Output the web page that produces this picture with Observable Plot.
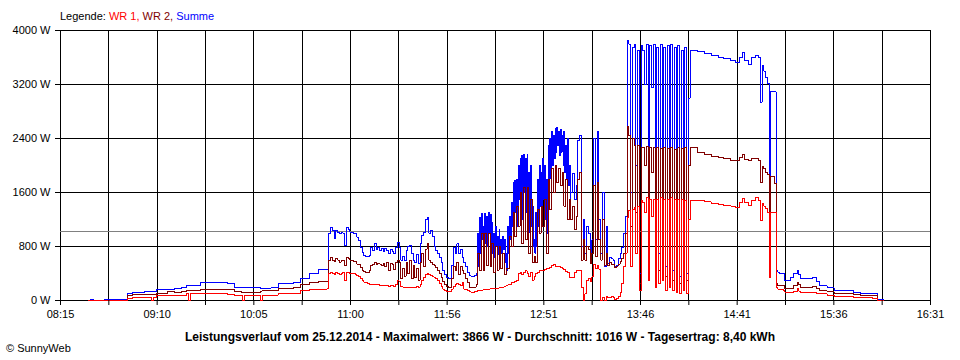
<!DOCTYPE html>
<html><head><meta charset="utf-8">
<script src="https://cdn.jsdelivr.net/npm/d3@7"></script>
<script src="https://cdn.jsdelivr.net/npm/@observablehq/plot@0.6"></script>
<style>
body{margin:0;background:#fff;}
#wrap{position:relative;width:960px;height:360px;font-family:"Liberation Sans",Arial,sans-serif;font-size:11px;color:#000;}
#chart{position:absolute;left:0;top:0;}
#legend{position:absolute;left:60px;top:10px;white-space:nowrap;}
#title{position:absolute;left:0;width:960px;top:330px;text-align:center;font-weight:bold;font-size:12px;white-space:nowrap;}
#copy{position:absolute;left:6px;top:342px;white-space:nowrap;}
</style></head>
<body>
<div id="wrap">
<div id="chart"></div>
<div id="legend"></div>
<div id="title"></div>
<div id="copy"></div>
</div>
<script>
const seriesNames = ["WR 1", "WR 2", "Summe"];
const seriesColors = ["#ff0000", "#800000", "#0000ff"];
const tickLabels = ["08:15","09:10","10:05","11:00","11:56","12:51","13:46","14:41","15:36","16:31"];
const yTicks = [0, 800, 1600, 2400, 3200, 4000];
const average = 1016;
const titleText = "Leistungsverlauf vom 25.12.2014 - Maximalwert: 3866 W - Durchschnitt: 1016 W - Tagesertrag: 8,40 kWh";
const copyText = "© SunnyWeb";

const times = [
"08:31","08:32","08:34","08:40","08:53","08:56","09:00","09:03","09:07","09:08",
"09:10","09:13","09:16","09:20","09:24","09:27","09:28","09:29","09:35","09:40",
"09:45","09:50","09:54","09:58","09:59","10:00","10:05","10:09","10:10","10:15",
"10:19","10:24","10:28","10:32","10:37","10:42","10:47",
"10:48","10:49","10:50","10:51","10:52","10:53","10:54","10:55","10:56","10:57",
"10:58","10:59","11:00","11:01","11:02","11:03","11:04","11:05","11:06","11:07",
"11:08","11:09","11:10","11:11","11:12","11:13","11:14","11:15","11:16","11:17",
"11:18","11:19","11:20","11:21","11:22","11:23","11:24","11:25","11:26","11:27",
"11:28","11:29","11:30","11:31","11:32","11:33","11:34","11:35","11:36","11:37",
"11:38","11:39","11:40","11:41","11:42","11:43","11:44","11:45","11:46","11:47",
"11:48","11:49","11:50","11:51","11:52","11:53","11:54","11:55","11:56","11:57",
"11:58","11:59","12:00","12:01","12:02","12:03","12:04","12:05","12:06","12:07",
"12:08","12:09","12:10","12:11","12:12",
"12:13","12:13:30","12:14","12:14:30","12:15","12:15:30","12:16","12:16:30","12:17","12:17:30",
"12:18","12:18:30","12:19","12:19:30","12:20","12:20:30","12:21","12:21:30","12:22","12:22:30",
"12:23","12:23:30","12:24","12:24:30","12:25","12:25:30","12:26","12:26:30","12:27","12:27:30",
"12:28","12:28:30","12:29","12:29:30","12:30","12:30:30","12:31","12:31:30","12:32","12:32:30",
"12:33","12:33:30","12:34","12:34:30","12:35","12:35:30","12:36","12:36:30","12:37","12:37:30",
"12:38","12:38:30","12:39","12:39:30","12:40","12:40:30","12:41","12:41:30","12:42","12:42:30",
"12:43","12:43:30","12:44","12:44:30","12:45","12:45:30","12:46","12:46:30","12:47","12:47:30",
"12:48","12:48:30","12:49","12:49:30","12:50","12:50:30","12:51","12:51:30","12:52","12:52:30",
"12:53","12:53:30","12:54","12:54:30","12:55","12:55:30","12:56","12:56:30","12:57","12:57:30",
"12:58","12:58:30","12:59","12:59:30","13:00","13:00:30","13:01","13:01:30","13:02","13:02:30",
"13:03","13:03:30","13:04","13:04:30","13:05","13:05:30",
"13:06","13:07",
"13:08","13:09","13:10","13:11","13:12","13:13","13:14","13:15","13:16","13:17",
"13:18","13:19","13:20","13:21","13:22","13:23","13:24","13:25","13:26","13:27",
"13:28","13:29","13:30","13:31","13:32","13:33","13:34","13:35","13:36","13:37",
"13:38","13:39","13:40","13:41","13:42","13:43","13:44","13:45","13:46","13:47",
"13:48","13:49","13:50","13:51","13:52","13:53","13:54","13:55","13:56","13:57",
"13:58","13:59","14:00","14:01","14:02","14:03","14:04","14:05","14:06","14:07",
"14:08","14:09","14:10","14:11","14:12","14:13","14:14",
"14:18","14:22","14:26","14:30","14:33","14:37","14:40","14:42","14:44","14:45",
"14:47","14:49","14:51","14:53","14:54","14:55","14:56","14:57","14:58","14:59",
"15:00","15:02","15:03","15:04","15:05","15:07","15:08","15:11","15:13","15:15",
"15:16","15:17","15:21","15:24","15:26","15:28","15:32","15:36","15:47","15:51",
"15:58","16:01","16:04"
];
const wr1 = [
0,0,0,0,25,40,50,50,0,50,
74,74,74,74,80,99,0,99,99,99,
99,95,74,74,0,74,74,0,74,80,
99,99,110,148,160,170,173,
400,420,400,390,410,395,380,400,410,300,
420,410,400,400,395,390,370,350,320,290,
270,260,250,240,240,230,235,230,230,220,
225,220,220,215,210,215,220,210,230,290,
280,210,200,195,200,195,200,195,190,200,
210,200,240,300,340,380,395,390,370,350,
345,330,290,250,210,170,150,140,138,140,
170,210,240,250,240,220,270,170,160,150,
130,123,125,130,140,
150,150,150,150,155,155,160,160,165,165,
165,165,170,170,175,175,175,175,180,180,
180,180,180,180,190,190,195,195,200,200,
210,210,220,220,230,230,240,240,260,260,
270,270,280,280,300,300,400,400,420,420,
380,380,420,420,440,440,400,400,350,350,
420,420,300,300,360,360,400,400,420,420,
440,440,450,450,450,450,460,460,470,470,
480,480,490,490,520,520,528,528,500,500,
510,510,500,500,495,495,480,480,460,460,
430,430,410,410,346,346,
346,346,
420,444,444,444,200,0,100,300,320,280,
350,540,480,520,460,0,50,0,60,50,
40,60,50,20,30,60,120,250,500,700,
1234,1330,500,1350,1380,700,1400,150,1480,1450,
1300,1530,300,1500,1250,1500,200,1500,250,1530,
300,1500,150,1500,200,1520,150,1500,120,1500,
100,1500,150,1480,100,1200,1480,
1481,1460,1432,1420,1410,1400,1382,1450,1506,1450,
1407,1480,1530,1480,1185,1430,1400,1358,1308,345,
1300,1300,197,170,165,150,123,123,130,173,
140,123,123,123,110,100,74,60,49,49,
25,0,0
];
const wr2 = [
0,0,0,0,70,85,90,90,90,90,
104,110,128,125,128,148,148,148,168,165,
168,160,128,124,124,124,124,140,148,148,
173,173,190,237,260,286,286,
600,642,600,580,620,600,570,590,600,520,
640,620,600,590,580,575,540,530,490,450,
430,420,420,440,520,540,560,530,550,540,
520,550,500,560,450,550,540,460,560,600,
570,330,480,360,560,400,590,320,520,340,
480,300,560,700,500,760,840,600,560,530,
520,490,440,400,340,280,240,210,200,200,
320,500,440,560,380,500,450,400,330,270,
200,200,200,200,240,
700,700,450,450,1000,1000,440,440,1000,1000,
520,520,1000,1000,500,500,850,850,420,420,
800,800,450,450,800,800,480,480,700,700,
380,380,480,480,480,480,950,950,800,800,
1300,1300,950,950,1400,1400,1100,1100,1600,1600,
850,850,1680,1680,900,900,1680,1680,700,700,
1500,1500,560,560,650,650,560,560,1350,1350,
1000,1000,1400,1400,1100,1100,1500,1500,700,700,
1800,1800,1350,1350,1950,1950,1600,1600,2000,2000,
1750,1750,1950,1950,1700,1700,1900,1900,1400,1400,
1800,1800,1200,1200,1500,1500,
1200,1400,
1050,1250,1800,1900,600,900,600,800,750,550,
700,1700,650,1750,900,600,1200,520,700,520,
560,540,540,490,510,540,580,620,700,1000,
2577,2450,1100,2400,2300,1300,2300,250,2270,2270,
2000,2280,600,2270,1900,2260,400,2270,450,2250,
700,2270,350,2250,400,2270,300,2240,280,2260,
250,2250,300,2270,300,2000,2270,
2190,2160,2140,2120,2100,2080,2070,2120,2170,2090,
2080,2100,2100,2080,1750,1990,1950,1900,1870,500,
1840,1730,250,222,222,222,173,180,220,272,
230,197,197,210,180,148,130,99,85,75,
74,0,0
];
const summe = [
0,10,0,10,105,115,125,138,140,140,
168,168,170,173,200,217,220,222,267,267,
262,255,200,198,198,198,195,182,182,190,
247,257,270,330,395,459,459,
1000,1086,1037,913,1037,1012,987,1012,1000,815,
1086,1050,1012,1012,987,987,938,889,790,716,
666,650,650,666,790,740,840,760,790,740,
770,720,770,740,700,760,720,690,780,860,
790,600,650,590,740,800,820,700,600,560,
680,550,840,960,1012,1200,1234,1000,1037,950,
800,740,690,640,560,440,380,340,321,330,
520,780,700,840,700,760,640,560,500,420,
370,360,350,370,400,
1000,500,1230,700,1290,900,1100,640,1290,850,
1250,800,1300,1000,1280,750,1150,700,1000,640,
1100,800,950,680,1050,800,900,700,950,760,
900,560,700,450,1100,700,1250,900,1450,1100,
1750,1200,1777,1300,1800,1100,2000,1500,2100,1400,
2150,1200,2170,1600,2100,1300,2170,1500,1900,1000,
2000,1100,1400,800,900,700,1300,800,1800,1100,
2000,1400,1900,1300,2100,1500,2000,1200,1800,1000,
2300,1600,2400,1800,2500,2000,2450,2100,2550,2200,
2567,2300,2500,2150,2540,2200,2450,2000,2500,1900,
2300,1800,2400,1700,2000,1500,
1600,1880,
1500,1700,2370,2450,800,1200,700,1100,1000,650,
900,2400,900,2500,1200,700,1600,500,1100,550,
640,620,600,500,520,620,700,790,1000,1240,
3850,3800,1600,3750,3800,2000,3700,400,3780,3700,
3200,3800,900,3780,3150,3800,600,3750,700,3800,
1000,3750,500,3780,600,3800,450,3750,400,3780,
350,3700,450,3750,400,3000,3700,
3690,3660,3630,3600,3580,3550,3530,3600,3680,3560,
3500,3600,3630,3600,2940,3480,3400,3310,3210,600,
3100,3090,444,420,395,395,296,340,400,444,
380,321,330,346,280,222,190,148,123,100,
99,20,0
];

const toMin = s => { const [h, m, sec = 0] = s.split(":").map(Number); return h * 60 + m + sec / 60; };
const rows = times.map((t, i) => ({t: toMin(t), wr1: wr1[i], wr2: wr2[i], summe: summe[i]}));
const x0 = toMin(tickLabels[0]);
const x1 = toMin(tickLabels[tickLabels.length - 1]);
const nInt = 2 * (tickLabels.length - 1);
const grid = d3.range(nInt + 1).map(i => x0 + i * (x1 - x0) / nInt);

const chart = Plot.plot({
  width: 960, height: 360,
  marginLeft: 60, marginRight: 30, marginTop: 30, marginBottom: 60,
  style: {fontFamily: '"Liberation Sans", Arial, sans-serif', fontSize: "11px", color: "black", background: "white", overflow: "visible"},
  x: {domain: [x0, x1]},
  y: {domain: [yTicks[0], yTicks[yTicks.length - 1]]},
  marks: [
    Plot.ruleY(yTicks, {stroke: "black", shapeRendering: "crispEdges"}),
    Plot.ruleX(grid, {stroke: "black", shapeRendering: "crispEdges"}),
    Plot.ruleY([average], {stroke: "#808080", shapeRendering: "crispEdges"}),
    Plot.line(rows, {x: "t", y: "summe", stroke: seriesColors[2], strokeWidth: 1, curve: "step-after", shapeRendering: "crispEdges"}),
    Plot.line(rows, {x: "t", y: "wr2", stroke: seriesColors[1], strokeWidth: 1, curve: "step-after", shapeRendering: "crispEdges"}),
    Plot.line(rows, {x: "t", y: "wr1", stroke: seriesColors[0], strokeWidth: 1, curve: "step-after", shapeRendering: "crispEdges"}),
    Plot.axisY({ticks: yTicks, tickFormat: d => `${d} W`, tickSize: 5, tickPadding: 5, label: null}),
    Plot.axisX({ticks: grid, tickFormat: d => { const i = grid.indexOf(d); return i % 2 === 0 ? tickLabels[i / 2] : ""; }, tickSize: 5, tickPadding: 5, label: null})
  ]
});
document.getElementById("chart").appendChild(chart);

const legend = document.getElementById("legend");
legend.append("Legende: ");
seriesNames.forEach((n, i) => {
  const s = document.createElement("span");
  s.style.color = seriesColors[i];
  s.textContent = n + (i < seriesNames.length - 1 ? ", " : "");
  legend.appendChild(s);
});
document.getElementById("title").textContent = titleText;
document.getElementById("copy").textContent = copyText;
</script>
</body></html>
